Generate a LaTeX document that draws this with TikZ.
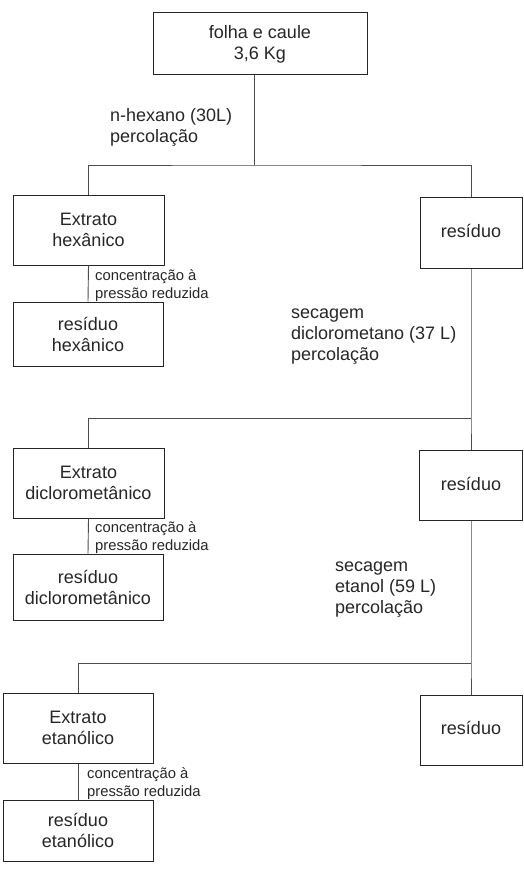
\documentclass[tikz,border=0pt]{standalone}
\usepackage{fontspec}
\setmainfont{Liberation Sans}
\begin{document}
\begin{tikzpicture}[x=1pt,y=-1pt,
  box/.style={draw=black!85,line width=1pt,rectangle,align=center,inner sep=0pt,
    font=\fontsize{18}{21}\selectfont,text=black!85},
  link/.style={draw=black!70,line width=0.9pt},
  lab/.style={anchor=west,align=left,inner sep=0pt,font=\fontsize{18}{21}\selectfont,text=black!85},
  small/.style={anchor=west,align=left,inner sep=0pt,font=\fontsize{14.8}{18}\selectfont,text=black!85}]
\useasboundingbox (0,0) rectangle (523,872);
% boxes
\node[box,minimum width=214,minimum height=62] (top) at (260,44) {folha e caule\\3,6 Kg};
\node[box,minimum width=151,minimum height=70] (eh) at (88.5,230) {Extrato\\hexânico};
\node[box,minimum width=102,minimum height=71] (r1) at (471,232.5) {\raisebox{4pt}{resíduo}};
\node[box,minimum width=150,minimum height=64] (rh) at (88,334) {resíduo\\hexânico};
\node[box,minimum width=151,minimum height=70] (ed) at (88.5,483) {Extrato\\diclorometânico};
\node[box,minimum width=103,minimum height=70] (r2) at (471,485) {\raisebox{2pt}{resíduo}};
\node[box,minimum width=150,minimum height=66] (rd) at (88,587) {resíduo\\diclorometânico};
\node[box,minimum width=150,minimum height=70] (ee) at (78,728) {Extrato\\etanólico};
\node[box,minimum width=102,minimum height=70] (r3) at (471,730) {\raisebox{4pt}{resíduo}};
\node[box,minimum width=150,minimum height=61] (re) at (78,830.5) {resíduo\\etanólico};
% junctions
\coordinate (j1) at (254,165);
\coordinate (j2) at (471,418);
\coordinate (j3) at (471,663);
% connectors
\draw[link] (top.south -| j1) -- (j1);
\draw[link] (eh.north) |- (j1) -| (r1.north);
\draw[link] (r1.south) -- (j2) -- (r2.north);
\draw[link] (j2) -| (ed.north);
\draw[link] (r2.south) -- (j3) -- (r3.north);
\draw[link] (j3) -| (ee.north);
\draw[link] (eh.south) -- (rh.north);
\draw[link] (ed.south) -- (rd.north);
\draw[link] (ee.south) -- (re.north);
% labels
\node[lab] (l1) at (110,127.5) {n-hexano (30L)\\percolação};
\node[lab] (l2) at (291,336.5) {secagem\\diclorometano (37 L)\\percolação};
\node[lab] (l3) at (335,589.5) {secagem\\etanol (59 L)\\percolação};
\node[small] (c1) at (95,285.5) {concentração à\\pressão reduzida};
\node[small] (c2) at (95,537.5) {concentração à\\pressão reduzida};
\node[small] (c3) at (87,783.5) {concentração à\\pressão reduzida};
\end{tikzpicture}
\end{document}
